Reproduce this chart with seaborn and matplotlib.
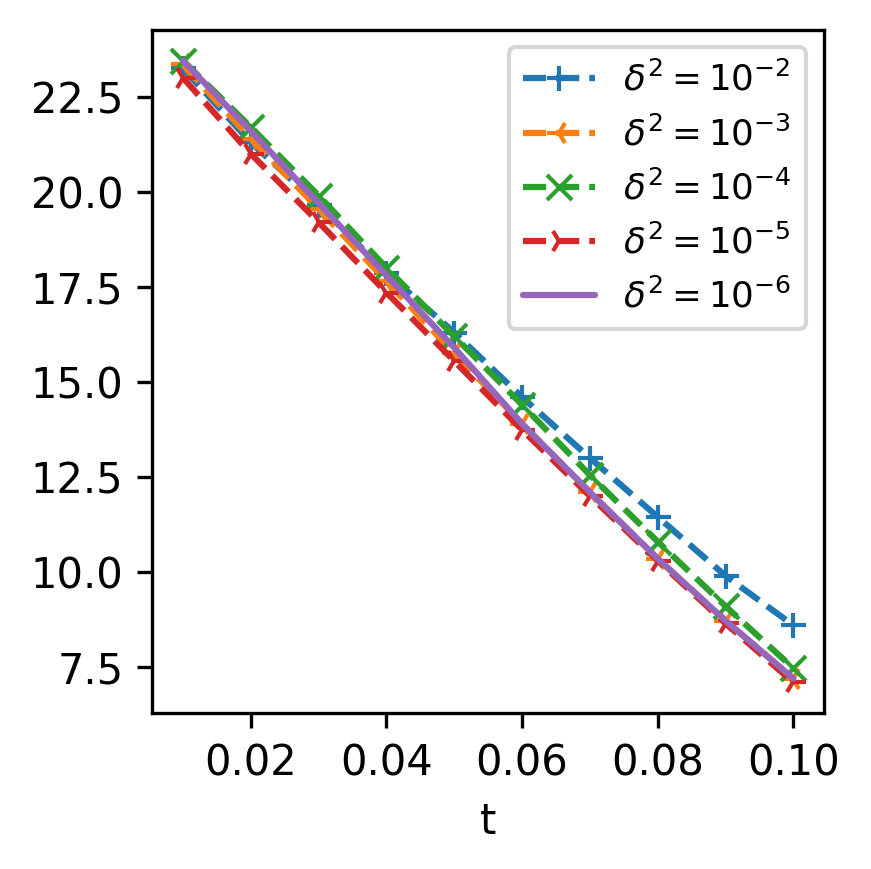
import numpy as np
import pandas as pd
import matplotlib
matplotlib.use('Agg')
import matplotlib.pyplot as plt
import seaborn as sns

sns.set_theme(style='ticks', rc={'axes.grid': False, 'text.color': 'black',
                                 'axes.labelcolor': 'black', 'xtick.color': 'black',
                                 'ytick.color': 'black', 'axes.edgecolor': 'black'})
plt.rcParams['font.family'] = ['DejaVu Sans']
plt.rcParams['mathtext.fontset'] = 'dejavusans'

t = [0.01, 0.02, 0.03, 0.04, 0.05, 0.06, 0.07, 0.08, 0.09, 0.10]

d2 = [23.25, 21.3, 19.66, 17.87, 16.3, 14.6, 13.0, 11.45, 9.9, 8.6]
d3 = [23.35, 21.4, 19.55, 17.65, 15.75, 13.9, 12.1, 10.35, 8.72, 7.2]
d4 = [23.45, 21.7, 19.9, 18.0, 16.2, 14.4, 12.55, 10.8, 9.1, 7.47]
d5 = [23.0, 21.0, 19.2, 17.35, 15.55, 13.74, 12.0, 10.3, 8.65, 7.1]
d6 = [23.45, 21.6, 19.7, 17.8, 15.9, 13.9, 12.1, 10.35, 8.72, 7.2]

labels = [r'$\delta^2=10^{-2}$', r'$\delta^2=10^{-3}$', r'$\delta^2=10^{-4}$',
          r'$\delta^2=10^{-5}$', r'$\delta^2=10^{-6}$']
series = [d2, d3, d4, d5, d6]
markers = ['+', '3', 'x', '4', None]
styles = ['--', '--', '--', '--', '-']
colors = sns.color_palette('tab10', 5)

fig, ax = plt.subplots(figsize=(871/300, 869/300), dpi=300)

for y, lab, m, ls, c in zip(series, labels, markers, styles, colors):
    df = pd.DataFrame({'t': t, 'v': y})
    sns.lineplot(data=df, x='t', y='v', ax=ax, color=c, marker=m, linestyle=ls,
                 label=lab, markersize=6, markeredgewidth=1, linewidth=1.5,
                 markeredgecolor=c)

ax.set_xlabel('t', fontsize=10)
ax.set_ylabel('')
ax.set_xticks([0.02, 0.04, 0.06, 0.08, 0.10])
ax.set_xticklabels(['0.02', '0.04', '0.06', '0.08', '0.10'])
ax.tick_params(labelsize=10, length=3.5, width=0.8, color='black')
for s in ax.spines.values():
    s.set_color('black')
    s.set_linewidth(0.8)
ax.legend(loc='upper right', fontsize=8.6, frameon=True)

fig.subplots_adjust(left=0.175, right=0.946, top=0.966, bottom=0.179)
fig.savefig('out.png', dpi=300)
